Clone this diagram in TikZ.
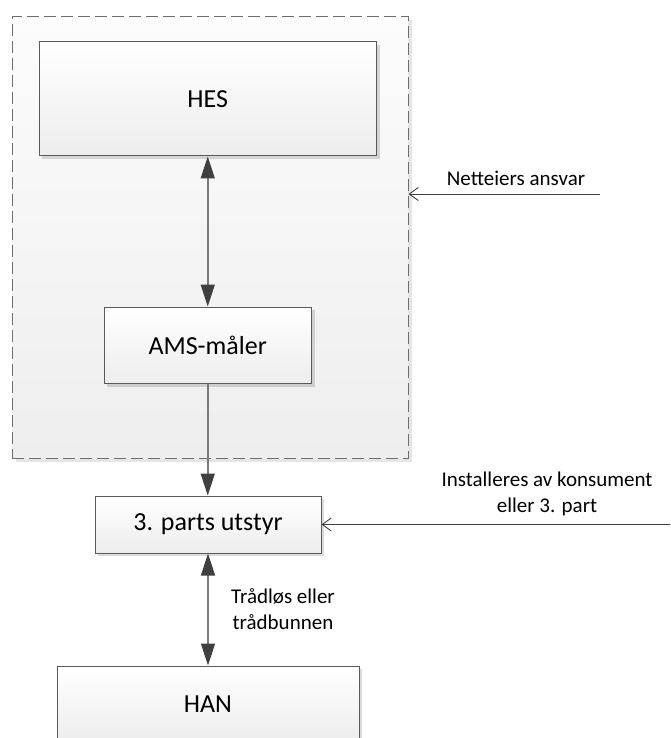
\documentclass[tikz,border=0pt]{standalone}
\usepackage{fontspec}
\setmainfont{Carlito}
\usetikzlibrary{arrows.meta,shadows}
\definecolor{edgegray}{HTML}{5A5A5A}
\definecolor{linegray}{HTML}{7A7A7A}
\definecolor{headgray}{HTML}{404040}
\definecolor{boxtop}{HTML}{FFFFFF}
\definecolor{boxbot}{HTML}{EDEDED}
\definecolor{zonetop}{HTML}{FCFCFC}
\definecolor{zonebot}{HTML}{EEEEEE}
\definecolor{dashgray}{HTML}{6E6E6E}
\tikzset{
  boxnode/.style={draw=edgegray, line width=1pt, rectangle, top color=boxtop, bottom color=boxbot,
    inner sep=0pt, font=\fontsize{26}{31}\selectfont,
    drop shadow={shadow xshift=3pt, shadow yshift=-3pt, fill=black, opacity=0.14}},
  zonenode/.style={draw=dashgray, line width=1pt, dash pattern=on 12pt off 5pt, rectangle,
    top color=zonetop, bottom color=zonebot, inner sep=0pt,
    drop shadow={shadow xshift=4pt, shadow yshift=-4pt, fill=black, opacity=0.10}},
  conn/.style={draw=linegray, line width=1.6pt,
    arrows={Triangle[length=22pt,width=14pt,color=headgray]-Triangle[length=22pt,width=14pt,color=headgray]}},
  connone/.style={draw=linegray, line width=1.6pt,
    arrows={-Triangle[length=22pt,width=14pt,color=headgray]}},
  sidearrow/.style={draw=headgray, line width=0.9pt, -{Straight Barb[length=9pt,width=13pt]}},
  lbl/.style={inner sep=0pt, align=center, font=\fontsize{21}{26}\selectfont}
}
\begin{document}
\begin{tikzpicture}[x=1pt,y=-1pt]
\useasboundingbox (0,0) rectangle (670,738);
\clip (0,0) rectangle (670,738);
\node[zonenode, minimum width=396pt, minimum height=441.5pt] (zone) at (210,237.25) {};
\node[boxnode, minimum width=337.5pt, minimum height=114pt] (hes) at (207.75,99) {HES};
\node[boxnode, minimum width=207.5pt, minimum height=76.5pt] (ams) at (207.75,345.25) {AMS-måler};
\node[boxnode, minimum width=226pt, minimum height=57pt] (parts) at (208,524.5) {3. parts utstyr};
\node[boxnode, minimum width=302pt, minimum height=76pt] (han) at (208,704) {HAN};
\draw[conn] (hes) -- (ams);
\draw[connone] (ams) -- (ams.south |- parts.north);
\draw[conn] (parts) -- (parts.south |- han.north);
\node[lbl] (tlbl) at (283,609.5) {Trådløs eller\\trådbunnen};
\coordinate (n1) at (600,194);
\draw[sidearrow] (n1) -- (zone.east |- n1);
\node[lbl] (netlbl) at (516,178) {Netteiers ansvar};
\coordinate (n2) at (672,524.5);
\draw[sidearrow] (n2) -- (parts.east);
\node[lbl] (inslbl) at (547,494) {Installeres av konsument\\eller 3. part};
\end{tikzpicture}
\end{document}
